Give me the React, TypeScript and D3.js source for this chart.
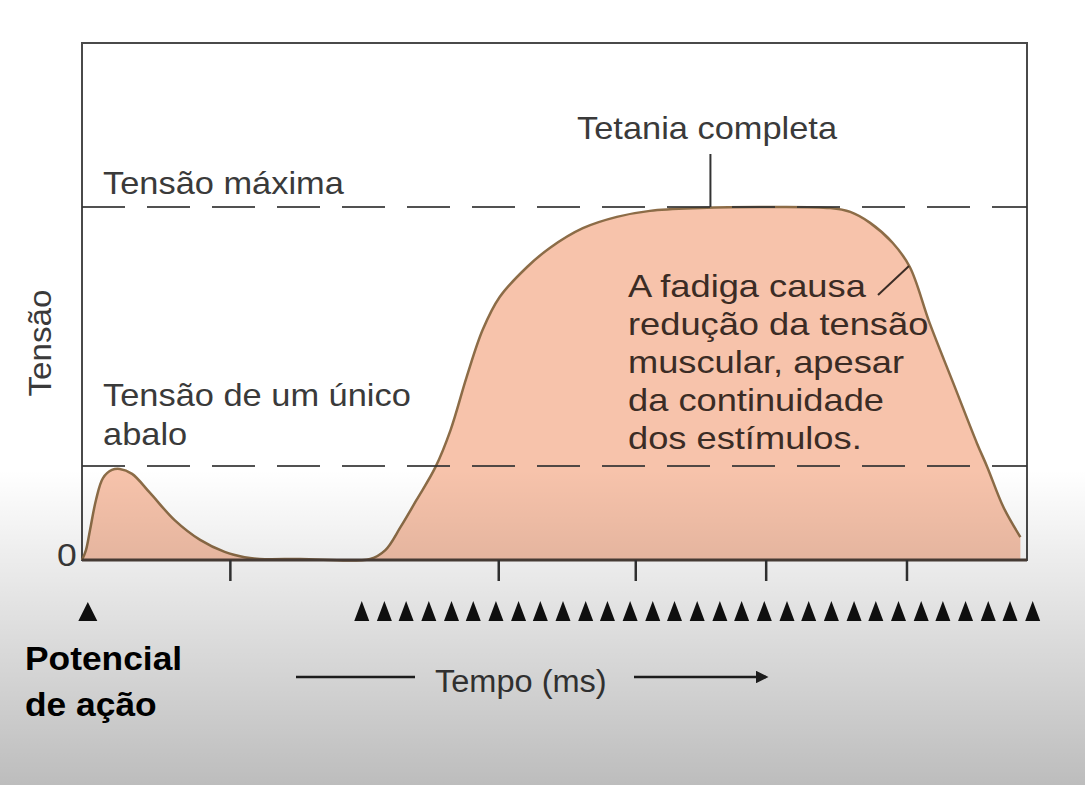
import * as d3 from "d3";

// Curve of muscle tension (time in arbitrary units, tension in % of max)
const twitchTime = [0, 0.42, 0.85, 1.48, 2.22, 3.17, 4.0, 5.3, 7.2, 9.8, 12.5, 15.1, 17.2, 18.8, 23.1, 30.5];
const twitchTension = [0, 2.8, 8.5, 17, 23.2, 25.5, 25.8, 24.4, 19, 11.3, 5.7, 2.3, 0.8, 0.3, 0.3, 0.3];
const tetanusTime = [32.1, 33.7, 35.4, 37.4, 39.0, 40.7, 42.4, 44.2, 47.1, 49.5, 53.0, 56.6, 60.1, 65.4, 71.7, 79.2, 81.3, 83.4, 85.8, 87.6, 89.7, 92.2, 94.7, 95.8, 97.5, 99.3];
const tetanusTension = [2.8, 9.3, 17, 26.3, 36.8, 51.8, 65.2, 74.5, 83, 88.4, 94, 97.2, 98.9, 99.7, 100, 99.7, 98.6, 95.5, 89.8, 83, 67.1, 50.1, 33.1, 26.3, 15, 6.5];

const maxTension = 100;
const singleTwitchTension = 26.6;
const tickTimes = [15.7, 44.1, 58.6, 72.4, 87.3];
const singleStimulus = [0.3];
const stimulusTrain = [29.6, 32.0, 34.3, 36.7, 39.1, 41.4, 43.8, 46.2, 48.5, 50.9, 53.3, 55.6, 58.0, 60.4, 62.7, 65.1, 67.5, 69.8, 72.2, 74.6, 76.9, 79.3, 81.7, 84.0, 86.4, 88.8, 91.1, 93.5, 95.9, 98.2, 100.6];

const fatigueLines = ["A fadiga causa", "redução da tensão", "muscular, apesar", "da continuidade", "dos estímulos."];

const W = 1085;
const H = 785;
const box = { left: 82, right: 1027, top: 43, bottom: 560 };

// the source screenshot is a bit stretched horizontally
function T({ x, y, sx = 1.11, children, ...rest }: any) {
  return (
    <text transform={`translate(${x},${y}) scale(${sx},1)`} {...rest}>{children}</text>
  );
}

export default function App() {
  const x = d3.scaleLinear().domain([0, 100]).range([box.left, box.left + 945]);
  const y = d3.scaleLinear().domain([0, maxTension]).range([box.bottom, 207]);

  const pts: [number, number][] = [
    ...twitchTime.map((t, i) => [t, twitchTension[i]] as [number, number]),
    ...tetanusTime.map((t, i) => [t, tetanusTension[i]] as [number, number]),
  ];

  const curve = d3.curveCatmullRom.alpha(0.5);
  const area = d3.area<[number, number]>()
    .x((d) => x(d[0]))
    .y0(y(0))
    .y1((d) => y(d[1]))
    .curve(curve);
  const line = d3.line<[number, number]>()
    .x((d) => x(d[0]))
    .y((d) => y(d[1]))
    .curve(curve);

  const tri = (cx: number, top: number, w: number, h: number) =>
    `M${cx - w / 2},${top + h}L${cx},${top}L${cx + w / 2},${top + h}Z`;

  const font = "'Liberation Sans', Arial, sans-serif";
  const textColor = "#3a3a3a";

  return (
    <svg width={W} height={H} style={{ position: "absolute", left: 0, top: 0 }}>
      <defs>
        <linearGradient id="shade" x1="0" y1="0" x2="0" y2="1">
          <stop offset="0" stopColor="#000" stopOpacity={0} />
          <stop offset="1" stopColor="#000" stopOpacity={0.26} />
        </linearGradient>
        <marker id="arrow" viewBox="0 0 10 10" refX="8" refY="5" markerWidth="5" markerHeight="5" orient="auto">
          <path d="M0,0L10,5L0,10Z" fill="#222" />
        </marker>
      </defs>
      <rect width={W} height={H} fill="#fff" />

      {/* frame */}
      <rect x={box.left} y={box.top} width={box.right - box.left} height={box.bottom - box.top}
        fill="none" stroke="#4a4a4a" strokeWidth={2} />

      {/* curve */}
      <path d={area(pts)!} fill="#f7c3ab" />
      <path d={line(pts)!} fill="none" stroke="#8c6c47" strokeWidth={2.5} />

      {/* reference lines */}
      {[maxTension, singleTwitchTension].map((v) => (
        <line key={v} x1={box.left} x2={box.right} y1={y(v)} y2={y(v)}
          stroke="#333" strokeOpacity={0.85} strokeWidth={2} strokeDasharray="43 22" />
      ))}

      {/* time axis */}
      <line x1={box.left} x2={box.right} y1={box.bottom} y2={box.bottom} stroke="#4b3f38" strokeWidth={3} />
      {tickTimes.map((t) => (
        <line key={t} x1={x(t)} x2={x(t)} y1={box.bottom} y2={box.bottom + 21} stroke="#333" strokeWidth={2.5} />
      ))}

      {/* stimuli */}
      {singleStimulus.map((t, i) => (
        <path key={"s" + i} d={tri(x(t) + 3, 602, 19, 19)} fill="#111" />
      ))}
      {stimulusTrain.map((t, i) => (
        <path key={i} d={tri(x(t), 601, 15, 20)} fill="#111" />
      ))}

      {/* labels */}
      <g fontFamily={font} fill={textColor} fontSize={31}>
        <T x={103} y={194}>Tensão máxima</T>
        <T x={577} y={139}>Tetania completa</T>
        <T x={103} y={406}>Tensão de um único</T>
        <T x={103} y={445}>abalo</T>
        <T x={57} y={566} fontSize={32}>0</T>
        <text transform="translate(51,343) rotate(-90) scale(1.07,1)" textAnchor="middle">Tensão</text>
        {fatigueLines.map((s, i) => (
          <T key={s} x={628} y={297 + i * 38} sx={1.17} fill="#3b2c25">{s}</T>
        ))}
        <T x={435} y={692} sx={1.05}>Tempo (ms)</T>
      </g>
      <line x1={x(66.5)} x2={x(66.5)} y1={154} y2={y(maxTension)} stroke="#333" strokeWidth={2} />
      <line x1={878} y1={295} x2={909} y2={266} stroke="#3b2c25" strokeWidth={2} />

      <line x1={296} x2={415} y1={677} y2={677} stroke="#222" strokeWidth={2.5} />
      <line x1={634} x2={766} y1={677} y2={677} stroke="#222" strokeWidth={2.5} markerEnd="url(#arrow)" />

      <g fontFamily={font} fontWeight="bold" fontSize={34} fill="#000">
        <T x={25} y={670} sx={1.04}>Potencial</T>
        <T x={25} y={716} sx={1.04}>de ação</T>
      </g>

      {/* screenshot shading */}
      <rect y={470} width={W} height={H - 470} fill="url(#shade)" />
    </svg>
  );
}
